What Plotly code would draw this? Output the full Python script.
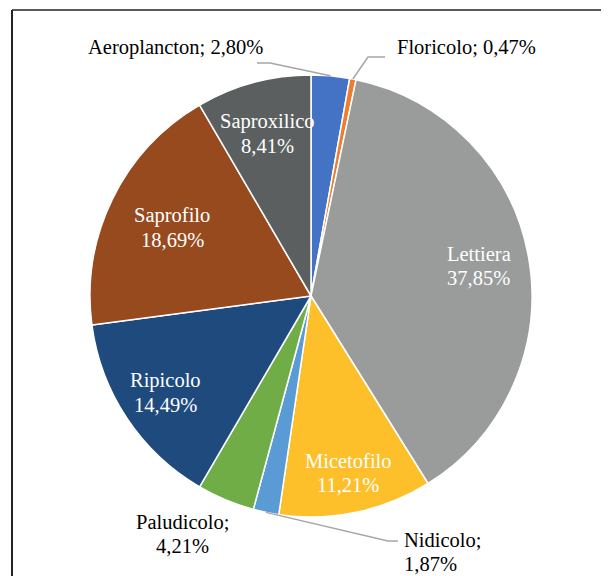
import math
import plotly.graph_objects as go

categories = ["Aeroplancton", "Floricolo", "Lettiera", "Micetofilo", "Nidicolo",
              "Paludicolo", "Ripicolo", "Saprofilo", "Saproxilico"]
values = [2.80, 0.47, 37.85, 11.21, 1.87, 4.21, 14.49, 18.69, 8.41]
value_labels = ["2,80%", "0,47%", "37,85%", "11,21%", "1,87%", "4,21%", "14,49%", "18,69%", "8,41%"]
colors = ["#4472C4", "#ED7D31", "#9A9C9C", "#FDBF2A", "#5B9BD5",
          "#70AD47", "#1E4A7D", "#984A1F", "#5B5F60"]

W, H = 609, 576
OFF = 8  # page body margin
CX, CY, R = 311, 296, 221
FONT = "'Liberation Serif', 'Times New Roman', Times, serif"
FS = 20.5
LINE = 24  # line spacing of two-line labels


def px(x):
    return (x - OFF) / W


def py(y):
    return 1 - (y - OFF) / H


total = sum(values)
mids = []
cum = 0
for v in values:
    mids.append(2 * math.pi * (cum + v / 2) / total)
    cum += v


def slice_point(i, frac):
    a = mids[i]
    return CX + frac * R * math.sin(a), CY - frac * R * math.cos(a)


fig = go.Figure(go.Pie(
    labels=categories, values=values, sort=False, direction="clockwise", rotation=0,
    textinfo="none", hoverinfo="label+percent", showlegend=False,
    marker=dict(colors=colors, line=dict(color="white", width=1.5)),
    domain=dict(x=[px(CX - R), px(CX + R)], y=[py(CY + R), py(CY - R)]),
))

annotations = []
shapes = []


def add_text(x, y, text, color, xa="center"):
    annotations.append(dict(x=px(x), y=py(y), xref="paper", yref="paper",
                            text=text, showarrow=False,
                            font=dict(family=FONT, size=FS, color=color),
                            xanchor=xa, yanchor="middle"))


# inside labels (radius fraction of the label centre)
inside = {"Lettiera": 0.77, "Micetofilo": 0.82, "Ripicolo": 0.79, "Saprofilo": 0.70, "Saproxilico": 0.76}
for i, c in enumerate(categories):
    if c in inside:
        x, y = slice_point(i, inside[c])
        add_text(x, y - LINE / 2, c, "white")
        add_text(x, y + LINE / 2, value_labels[i], "white")

# outside labels
outside = {
    "Aeroplancton": dict(pos=(175, 47), xa="center", single=True, path=[(257, 63), (270, 63)]),
    "Floricolo": dict(pos=(395, 47), xa="left", single=True, path=[(385, 57), (368, 57)]),
    "Nidicolo": dict(pos=(402, 552), xa="left", single=False, path=[(398, 541), (388, 541)]),
    "Paludicolo": dict(pos=(182, 534), xa="center", single=False, path=None),
}
for i, c in enumerate(categories):
    if c in outside:
        o = outside[c]
        x, y = o["pos"]
        if o["single"]:
            add_text(x, y, f"{c}; {value_labels[i]}", "black", o["xa"])
        else:
            add_text(x, y - LINE / 2, f"{c};", "black", o["xa"])
            add_text(x, y + LINE / 2, value_labels[i], "black", o["xa"])
        if o["path"]:
            ex, ey = slice_point(i, 1.0)
            pts = o["path"] + [(ex, ey)]
            d = "M " + " L ".join(f"{px(a):.5f},{py(b):.5f}" for a, b in pts)
            shapes.append(dict(type="path", path=d, xref="paper", yref="paper",
                               line=dict(color="#A6A6A6", width=1.5)))

# frame lines
shapes.append(dict(type="line", xref="paper", yref="paper", x0=px(12), x1=1.2, y0=py(10), y1=py(10),
                   line=dict(color="#222222", width=1.5)))
shapes.append(dict(type="line", xref="paper", yref="paper", x0=px(12), x1=px(12), y0=py(10), y1=-0.2,
                   line=dict(color="#222222", width=2)))

fig.update_layout(
    width=W, height=H, margin=dict(l=0, r=0, t=0, b=0),
    paper_bgcolor="white", plot_bgcolor="white",
    annotations=annotations, shapes=shapes,
    font=dict(family=FONT),
)

fig.write_html("out.html")
